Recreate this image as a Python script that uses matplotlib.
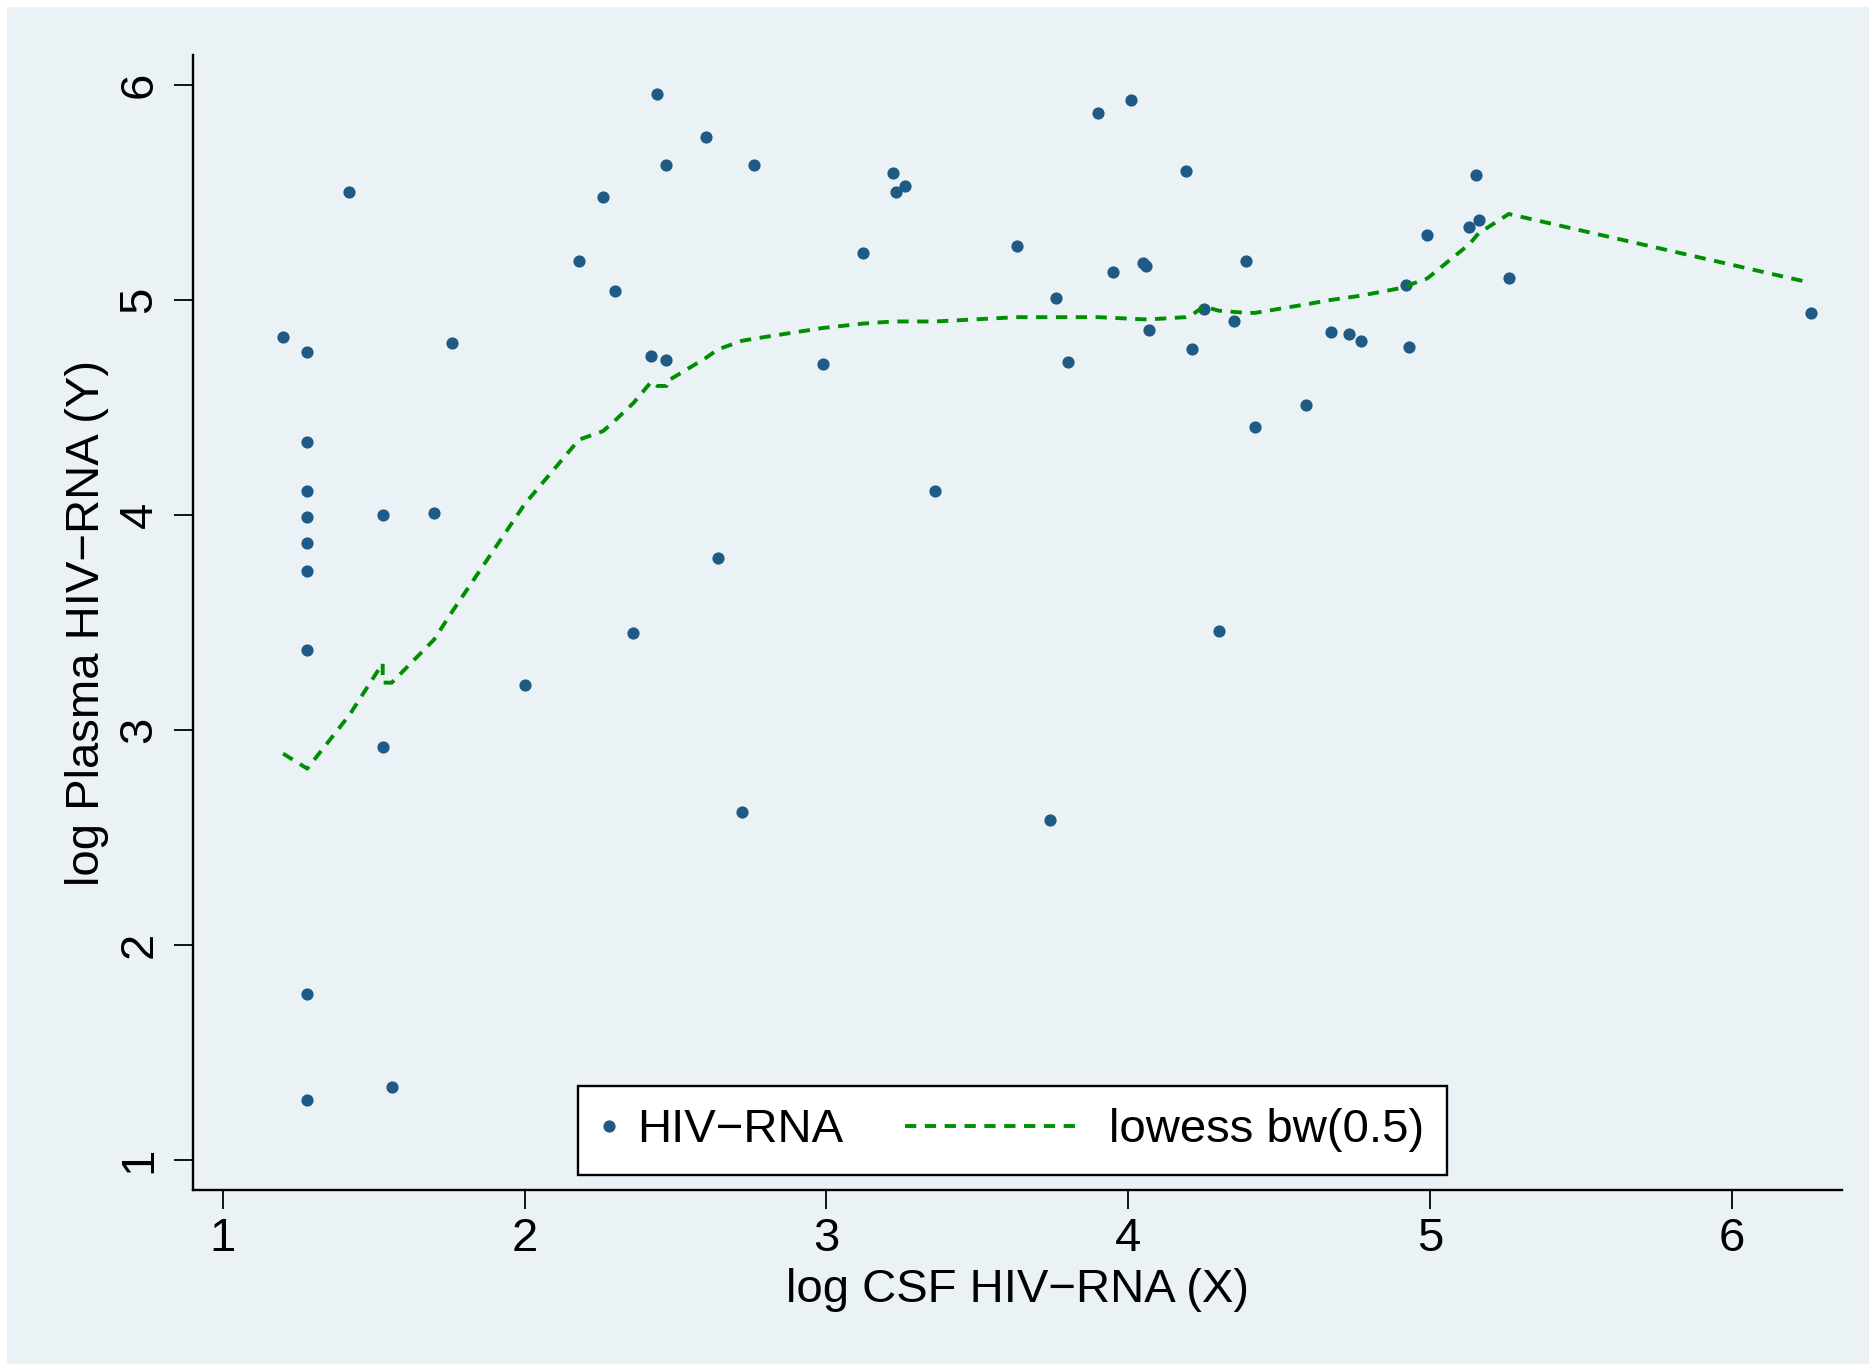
import matplotlib
matplotlib.use("Agg")
import matplotlib.pyplot as plt
from matplotlib.patches import Rectangle
from matplotlib.lines import Line2D
from matplotlib.legend_handler import HandlerLine2D

# log CSF HIV-RNA (X) and log Plasma HIV-RNA (Y), one entry per patient
csf = [2.44, 2.60, 2.47, 2.76, 1.42, 2.26, 2.18, 2.30, 1.20, 1.28,
       1.76, 2.42, 2.47, 1.28, 1.28, 1.28, 1.53, 1.70, 1.28, 1.28,
       2.64, 2.36, 1.28, 2.00, 1.53, 2.72, 1.28, 1.28, 1.56, 3.90,
       4.01, 3.22, 3.26, 3.23, 4.19, 3.12, 3.63, 4.05, 4.06, 3.95,
       4.39, 3.76, 4.25, 4.35, 4.07, 4.21, 2.99, 3.80, 4.67, 4.73,
       4.77, 4.59, 4.42, 3.36, 4.30, 3.74, 5.15, 5.16, 5.13, 4.99,
       4.92, 5.26, 4.93, 6.26]
plasma = [5.96, 5.76, 5.63, 5.63, 5.50, 5.48, 5.18, 5.04, 4.83, 4.76,
          4.80, 4.74, 4.72, 4.34, 4.11, 3.99, 4.00, 4.01, 3.87, 3.74,
          3.80, 3.45, 3.37, 3.21, 2.92, 2.62, 1.77, 1.28, 1.34, 5.87,
          5.93, 5.59, 5.53, 5.50, 5.60, 5.22, 5.25, 5.17, 5.16, 5.13,
          5.18, 5.01, 4.96, 4.90, 4.86, 4.77, 4.70, 4.71, 4.85, 4.84,
          4.81, 4.51, 4.41, 4.11, 3.46, 2.58, 5.58, 5.37, 5.34, 5.30,
          5.07, 5.10, 4.78, 4.94]

# lowess bw(0.5) fitted values, in Stata's sort order
lowess_x = [1.20, 1.28, 1.42, 1.53, 1.53, 1.56, 1.70, 1.76, 2.00, 2.18,
            2.26, 2.30, 2.36, 2.42, 2.44, 2.47, 2.47, 2.60, 2.64, 2.72,
            2.76, 2.99, 3.12, 3.22, 3.26, 3.36, 3.63, 3.76, 3.90, 4.05,
            4.07, 4.19, 4.21, 4.25, 4.30, 4.39, 4.42, 4.59, 4.67, 4.77,
            4.92, 4.93, 4.99, 5.13, 5.16, 5.26, 6.26]
lowess_y = [2.89, 2.82, 3.07, 3.31, 3.22, 3.22, 3.42, 3.55, 4.05, 4.35,
            4.39, 4.44, 4.52, 4.62, 4.60, 4.60, 4.62, 4.73, 4.77, 4.81,
            4.82, 4.87, 4.89, 4.90, 4.90, 4.90, 4.92, 4.92, 4.92, 4.91,
            4.91, 4.92, 4.93, 4.97, 4.95, 4.94, 4.94, 4.98, 5.00, 5.02,
            5.06, 5.07, 5.10, 5.26, 5.31, 5.40, 5.08]

ticks = [1, 2, 3, 4, 5, 6]

bg = "#EBF2F5"
navy = "#1F5A85"
green = "#008F00"
fs = 34

plt.rcParams["font.family"] = ["Liberation Sans", "DejaVu Sans"]


class LongDash(HandlerLine2D):
    # legend line that reaches back into the column gap, like Stata's key
    def __init__(self, length, shift, **kw):
        super().__init__(**kw)
        self.length = length
        self.shift = shift

    def create_artists(self, legend, orig_handle, xdescent, ydescent,
                       width, height, fontsize, trans):
        x1 = width - xdescent - self.shift * fontsize
        y = (height - ydescent) / 2
        line = Line2D([x1 - self.length * fontsize, x1], [y, y])
        self.update_prop(line, orig_handle, legend)
        line.set_transform(trans)
        return [line]


W, H = 1876, 1370
fig = plt.figure(figsize=(W / 100, H / 100), dpi=100)
fig.patch.set_facecolor("white")
fig.patches.append(Rectangle((7 / W, 6 / H), (W - 14) / W, (H - 13) / H,
                             transform=fig.transFigure, facecolor=bg,
                             edgecolor="none", zorder=-10))

ax = fig.add_axes([193 / W, 1 - 1190 / H, 1649 / W, 1135 / H])
ax.set_facecolor(bg)

ax.plot(csf, plasma, "o", ms=8.8, mew=0, color=navy, label="HIV\u2212RNA")
ln, = ax.plot(lowess_x, lowess_y, color=green, lw=2.8, dashes=(2.9, 2.2),
              label="lowess bw(0.5)")

ax.set_xlim(0.9016, 6.364)
ax.set_ylim(0.860, 6.1395)
ax.set_xticks(ticks)
ax.set_yticks(ticks)

for side in ["top", "right"]:
    ax.spines[side].set_visible(False)
for side in ["left", "bottom"]:
    ax.spines[side].set_linewidth(1.7)

ax.tick_params(axis="both", length=13.7, width=1.3, labelsize=fs, colors="black")
ax.tick_params(axis="x", pad=6)
ax.tick_params(axis="y", pad=9, labelrotation=90)
for lab in ax.get_yticklabels():
    lab.set_verticalalignment("center")

ax.set_xlabel("log CSF HIV\u2212RNA (X)", fontsize=fs, labelpad=5)
ax.set_ylabel("log Plasma HIV\u2212RNA (Y)", fontsize=fs, labelpad=6)

leg = ax.legend(loc="lower left", bbox_to_anchor=((578 - 193) / 1649, 15 / 1135),
                ncol=2, fontsize=fs, frameon=True, fancybox=False,
                borderpad=0.48, handlelength=0.35, handletextpad=0.43,
                columnspacing=4.84, borderaxespad=0, numpoints=1,
                handler_map={ln: LongDash(3.73, 0.17)})
leg.get_frame().set_facecolor("white")
leg.get_frame().set_edgecolor("black")
leg.get_frame().set_linewidth(1.7)
leg.get_frame().set_alpha(1)

fig.savefig("out.png", dpi=100, facecolor=fig.get_facecolor())
